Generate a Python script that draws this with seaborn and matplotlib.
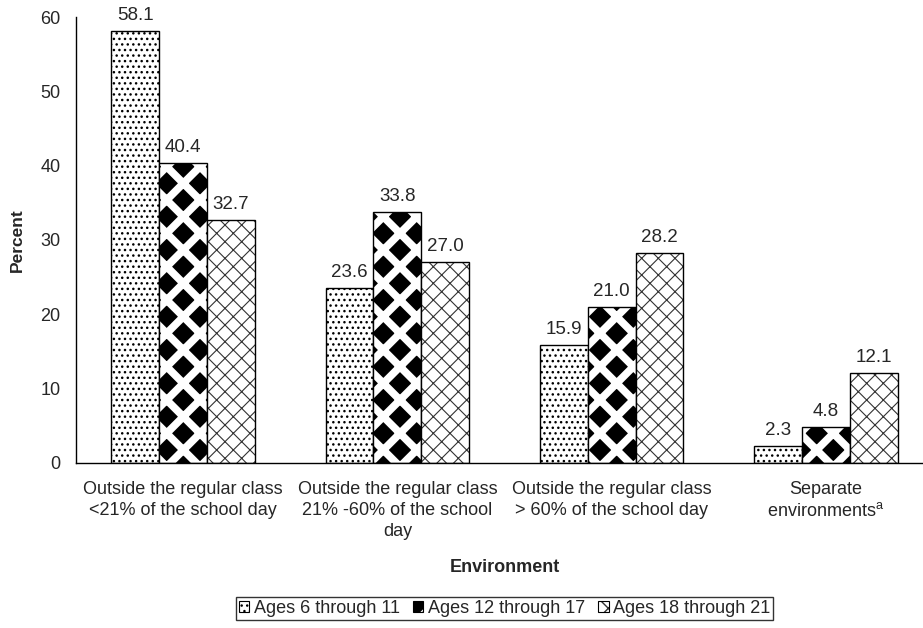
import pandas as pd
import seaborn as sns
import matplotlib.pyplot as plt
from matplotlib.patches import Patch

# Data
environments = [
    "Outside the regular class\n<21% of the school day",
    "Outside the regular class\n21% -60% of the school\nday",
    "Outside the regular class\n> 60% of the school day",
    "Separate\nenvironments$^{\\mathregular{a}}$",
]
age_groups = ["Ages 6 through 11", "Ages 12 through 17", "Ages 18 through 21"]
ages_6_11 = [58.1, 23.6, 15.9, 2.3]
ages_12_17 = [40.4, 33.8, 21.0, 4.8]
ages_18_21 = [32.7, 27.0, 28.2, 12.1]

rows = []
for grp, vals in zip(age_groups, [ages_6_11, ages_12_17, ages_18_21]):
    for env, v in zip(environments, vals):
        rows.append({"Environment": env, "Age": grp, "Percent": v})
df = pd.DataFrame(rows)

sns.set_style("white")
plt.rcParams["font.family"] = ["Liberation Sans", "DejaVu Sans"]
plt.rcParams["hatch.color"] = "black"

fig = plt.figure(figsize=(9.23, 6.28), dpi=100)
# axes run a little past the right edge, like the original
ax = fig.add_axes([76 / 923, 165.3 / 628, 857 / 923, 445.4 / 628])
sns.barplot(data=df, x="Environment", y="Percent", hue="Age",
            hue_order=age_groups, order=environments,
            color="white", width=0.67, ax=ax, legend=False,
            edgecolor="black", linewidth=1.0)


def style_bar(bar, kind):
    bar.set_edgecolor("black")
    bar.set_linewidth(1.0)
    if kind == 0:
        bar.set_facecolor("white")
        bar.set_hatch("...")
    elif kind == 1:
        # black diamonds: black face, thick white diagonal lines
        bar.set_facecolor("black")
        bar.set_hatch("x")
        bar._hatch_color = (1, 1, 1, 1)
        if hasattr(bar, "set_hatch_linewidth"):
            bar.set_hatch_linewidth(5.5)
    else:
        bar.set_facecolor("white")
        bar.set_hatch("xx")
        bar._hatch_color = (0.2, 0.2, 0.2, 1)
        if hasattr(bar, "set_hatch_linewidth"):
            bar.set_hatch_linewidth(0.8)


for k, cont in enumerate(ax.containers):
    for bar in cont:
        style_bar(bar, k)
    ax.bar_label(cont, fmt="%.1f", padding=5, fontsize=13.5)

ax.set_ylim(0, 60)
ax.set_yticks(range(0, 61, 10))
ax.set_xlim(-0.5, 3.5)
ax.set_xticks([-0.5, 0.5, 1.5, 2.5, 3.5])
ax.set_xticklabels([])
ax.set_xticks([0, 1, 2, 3], minor=True)
ax.set_xticklabels(environments, minor=True, fontsize=13, linespacing=1.32)
ax.tick_params(axis="x", which="minor", length=0, pad=13)
ax.tick_params(axis="x", which="major", direction="out", length=5, width=1, color="black")
ax.tick_params(axis="y", direction="out", length=5, width=1, color="black",
               labelsize=13, pad=6)
for s in ["top", "right"]:
    ax.spines[s].set_visible(False)
for s in ["left", "bottom"]:
    ax.spines[s].set_color("black")
    ax.spines[s].set_linewidth(1)

ax.set_ylabel("Percent", fontsize=12.5, fontweight="bold")
ax.yaxis.set_label_coords(-0.060, 0.5)
ax.set_xlabel("Environment", fontsize=13, fontweight="bold")
ax.xaxis.set_label_coords(0.5, -0.216)

handles = []
for k in range(3):
    p = Patch(edgecolor="black", linewidth=0.8)
    style_bar(p, k)
    p.set_linewidth(0.8)
    handles.append(p)
leg = fig.legend(handles, age_groups, loc="center", ncol=3,
                 bbox_to_anchor=(504.5 / 923, 0.031), fontsize=13, frameon=True,
                 fancybox=False, edgecolor="black", handlelength=0.6,
                 handleheight=0.6, handletextpad=0.25, columnspacing=0.7,
                 borderpad=0.15, borderaxespad=0)
leg.get_frame().set_linewidth(1)

fig.savefig("out.png", dpi=100)
